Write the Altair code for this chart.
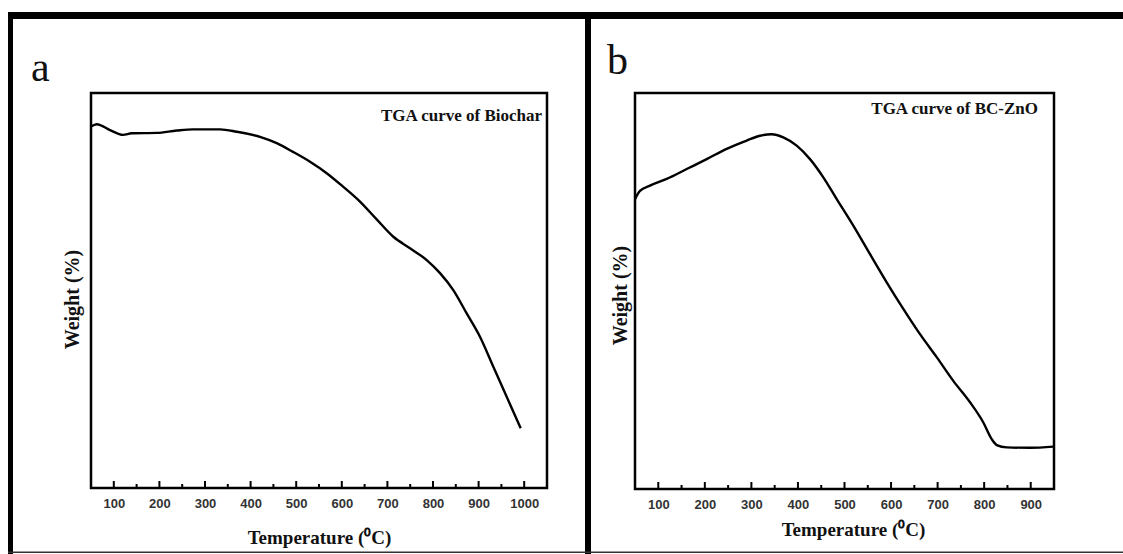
import altair as alt
import pandas as pd

# ---------------- data ----------------
# Panel a: TGA curve of Biochar
temp_a = [50, 62.5, 91.7, 120.2, 139.3, 194, 238, 273.7, 333, 369.5, 420.6, 457.2,
          493, 530.3, 566.9, 602.6, 639.9, 676.5, 713, 749.6, 786.2, 815.4,
          844.5, 873.9, 903, 932.3, 961.6, 992.3]
weight_a = [91.5, 92.1, 90.6, 89.4, 89.8, 89.9, 90.5, 90.8, 90.8, 90.2, 88.9, 87.3,
            85.1, 82.6, 79.7, 76.3, 72.5, 68.0, 63.6, 60.7, 57.7, 54.4,
            50.1, 44.2, 38.3, 30.7, 23.1, 15.1]

# Panel b: TGA curve of BC-ZnO
temp_b = [50, 60.7, 82.2, 118.1, 161, 204, 247, 290, 318.5, 343.6, 368.5, 397.3,
          425.9, 454.5, 483.3, 518.9, 554.8, 590.6, 626.3, 662.2, 698, 733.7,
          769.6, 798.2, 816.2, 827, 848.4, 898.5, 948.5]
weight_b = [73.2, 75.3, 76.6, 78.3, 80.8, 83.3, 85.9, 88, 89.2, 89.6, 88.8, 86.7,
            83.3, 78.7, 73.2, 66.5, 59.3, 52.2, 45.5, 39.1, 33.3, 27.3,
            21.9, 16.8, 12.6, 11.1, 10.5, 10.4, 10.7]

major_a = [100, 200, 300, 400, 500, 600, 700, 800, 900, 1000]
minor_a = [150, 250, 350, 450, 550, 650, 750, 850, 950]
major_b = [100, 200, 300, 400, 500, 600, 700, 800, 900]
minor_b = [150, 250, 350, 450, 550, 650, 750, 850]

x_title = "Temperature (\u2070C)"
y_title = "Weight (%)"

SERIF = "Liberation Serif"
SANS = "Liberation Sans"


def panel(temps, weights, major, minor, xdom, width, height, note, note_x, note_y,
          letter, letter_x, letter_y, ytx, yty, xtx, xty, extra=None):
    df = pd.DataFrame({"T": temps, "W": weights})
    xscale = alt.Scale(domain=xdom, nice=False, zero=False)
    yscale = alt.Scale(domain=[0, 100], nice=False, zero=False)
    xaxis = alt.Axis(values=major, format="d", ticks=False, domain=False, grid=False,
                     labelFont=SANS, labelFontSize=13, labelFontWeight="bold",
                     labelColor="#333", labelPadding=9, labelFlush=False,
                     title=x_title, titleFont=SERIF, titleFontSize=19,
                     titleFontWeight="bold", titleColor="#111",
                     titleX=xtx, titleY=xty, titleBaseline="middle",
                     titleAlign="center")
    xenc = alt.X("T:Q", scale=xscale, axis=xaxis)

    line = alt.Chart(df).mark_line(color="black", strokeWidth=2.4,
                                   interpolate="monotone").encode(
        x=xenc,
        y=alt.Y("W:Q", scale=yscale,
                axis=alt.Axis(labels=False, ticks=False, domain=False, grid=False,
                              title=y_title, titleFont=SERIF, titleFontSize=20,
                              titleFontWeight="bold", titleColor="#111",
                              titleAngle=270, titleBaseline="bottom",
                              titleAlign="center", titleX=ytx, titleY=yty)),
    )

    tmaj = alt.Chart(pd.DataFrame({"T": major})).mark_rule(
        color="black", strokeWidth=2).encode(
        x=xenc, y=alt.value(height), y2=alt.value(height - 7))
    tmin = alt.Chart(pd.DataFrame({"T": minor})).mark_rule(
        color="black", strokeWidth=2).encode(
        x=xenc, y=alt.value(height), y2=alt.value(height - 4))

    one = pd.DataFrame({"k": [0]})
    note_mark = alt.Chart(one).mark_text(
        text=note, font=SERIF, fontSize=17, fontWeight="bold", color="#111",
        align="right", baseline="middle").encode(
        x=alt.value(note_x), y=alt.value(note_y))
    letter_mark = alt.Chart(one).mark_text(
        text=letter, font=SERIF, fontSize=42, color="#111",
        align="left", baseline="alphabetic").encode(
        x=alt.value(letter_x), y=alt.value(letter_y))

    layers = []
    if extra is not None:
        layers.extend(extra)
    layers.extend([line, tmaj, tmin, note_mark, letter_mark])
    return alt.layer(*layers).properties(width=width, height=height)


# outer black frame of the figure (positions relative to panel a's plot origin 91,93)
one = pd.DataFrame({"k": [0]})
frame = [
    alt.Chart(one).mark_rect(color="black").encode(
        x=alt.value(-83), x2=alt.value(1032), y=alt.value(-81), y2=alt.value(-74)),
    alt.Chart(one).mark_rect(color="black").encode(
        x=alt.value(-83), x2=alt.value(-78), y=alt.value(-81), y2=alt.value(461)),
    alt.Chart(one).mark_rect(color="black").encode(
        x=alt.value(494), x2=alt.value(500), y=alt.value(-81), y2=alt.value(461)),
    alt.Chart(one).mark_rect(color="#333").encode(
        x=alt.value(-83), x2=alt.value(1032), y=alt.value(458.5), y2=alt.value(460)),
]

pa = panel(temp_a, weight_a, major_a, minor_a, [50, 1050], 456, 395,
           "TGA curve of Biochar", 451, 23, "a", -60, -12,
           -9, 206, 228, 49, extra=frame)
pb = panel(temp_b, weight_b, major_b, minor_b, [50, 950], 419, 396,
           "TGA curve of BC-ZnO", 403, 16, "b", -28, -19,
           -5, 202, 218, 40)

chart = alt.HConcatChart(hconcat=[pa, pb], spacing=88, bounds="flush").properties(
    autosize=alt.AutoSizeParams(type="none"),
    padding={"left": 91, "top": 93, "right": 1032, "bottom": 461},
    background="white",
).configure_view(stroke="black", strokeWidth=2.5)

chart.save("out.html", embed_options={"renderer": "svg", "actions": False})
